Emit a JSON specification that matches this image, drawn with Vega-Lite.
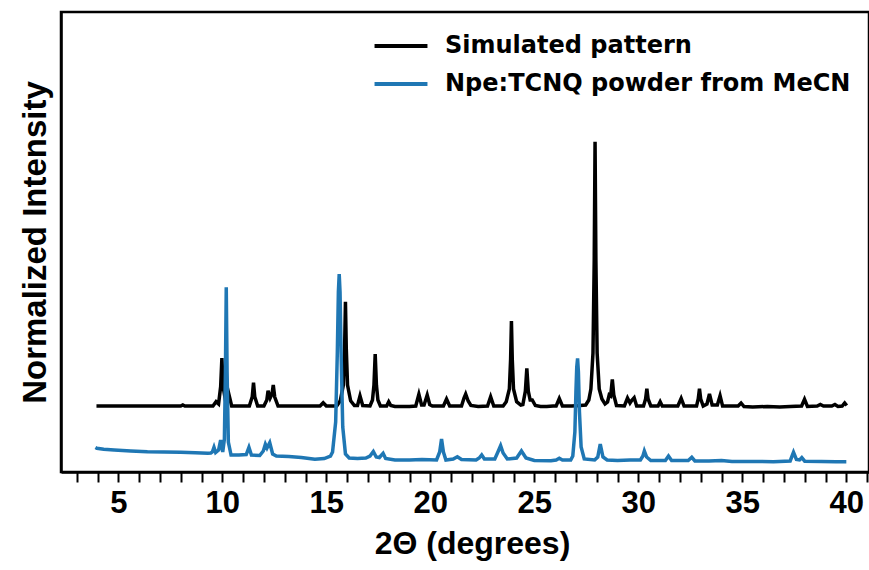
{
  "$schema": "https://vega.github.io/schema/vega-lite/v6.json",
  "width": 808,
  "height": 460,
  "autosize": {"type": "none"},
  "padding": {"left": 61, "top": 12, "right": 0, "bottom": 98},
  "background": "white",
  "config": {
    "view": {"stroke": "black", "strokeWidth": 2.5},
    "legend": {
      "orient": "none",
      "legendX": 320,
      "legendY": 14,
      "title": null,
      "symbolType": "M-1.47,0H1.47",
      "symbolSize": 1296,
      "symbolStrokeWidth": 4,
      "labelFont": "DejaVu Sans",
      "labelFontWeight": "bold",
      "labelFontSize": 24,
      "labelColor": "black",
      "labelLimit": 600,
      "labelOffset": 24,
      "rowPadding": 6,
      "padding": 0
    }
  },
  "datasets": {
    "sim": [
      {"x":3.95,"y":0.66},{"x":6.0,"y":0.66},{"x":8.0,"y":0.66},{"x":8.1,"y":0.67},{"x":8.2,"y":0.66},{"x":9.55,"y":0.66},{"x":9.7,"y":0.703},{"x":9.82,"y":0.68},{"x":9.92,"y":0.852},{"x":9.98,"y":1.14},{"x":10.04,"y":0.852},{"x":10.15,"y":0.72},{"x":10.3,"y":0.79},{"x":10.45,"y":0.66},{"x":11.3,"y":0.66},{"x":11.44,"y":0.753},{"x":11.5,"y":0.893},{"x":11.56,"y":0.753},{"x":11.7,"y":0.66},{"x":12.0,"y":0.66},{"x":12.14,"y":0.72},{"x":12.2,"y":0.813},{"x":12.3,"y":0.74},{"x":12.39,"y":0.78},{"x":12.45,"y":0.87},{"x":12.52,"y":0.75},{"x":12.68,"y":0.66},{"x":13.5,"y":0.66},{"x":14.7,"y":0.66},{"x":14.85,"y":0.693},{"x":15.0,"y":0.66},{"x":15.5,"y":0.66},{"x":15.67,"y":0.712},{"x":15.82,"y":0.869},{"x":15.88,"y":1.234},{"x":15.92,"y":1.703},{"x":15.96,"y":1.234},{"x":16.02,"y":0.869},{"x":16.17,"y":0.712},{"x":16.35,"y":0.665},{"x":16.5,"y":0.665},{"x":16.62,"y":0.76},{"x":16.75,"y":0.665},{"x":17.1,"y":0.66},{"x":17.22,"y":0.72},{"x":17.29,"y":0.868},{"x":17.35,"y":1.18},{"x":17.41,"y":0.868},{"x":17.48,"y":0.72},{"x":17.6,"y":0.66},{"x":17.9,"y":0.66},{"x":18.0,"y":0.703},{"x":18.1,"y":0.665},{"x":18.3,"y":0.655},{"x":19.0,"y":0.655},{"x":19.3,"y":0.66},{"x":19.45,"y":0.777},{"x":19.58,"y":0.67},{"x":19.7,"y":0.67},{"x":19.85,"y":0.77},{"x":19.97,"y":0.675},{"x":20.1,"y":0.66},{"x":20.63,"y":0.66},{"x":20.78,"y":0.73},{"x":20.93,"y":0.66},{"x":21.5,"y":0.66},{"x":21.62,"y":0.74},{"x":21.7,"y":0.78},{"x":21.82,"y":0.71},{"x":21.95,"y":0.665},{"x":22.3,"y":0.655},{"x":22.75,"y":0.66},{"x":22.9,"y":0.753},{"x":23.05,"y":0.66},{"x":23.5,"y":0.66},{"x":23.65,"y":0.703},{"x":23.8,"y":0.83},{"x":23.86,"y":1.128},{"x":23.9,"y":1.51},{"x":23.94,"y":1.128},{"x":24.0,"y":0.83},{"x":24.15,"y":0.703},{"x":24.35,"y":0.67},{"x":24.45,"y":0.675},{"x":24.57,"y":0.81},{"x":24.64,"y":1.037},{"x":24.71,"y":0.81},{"x":24.8,"y":0.72},{"x":24.9,"y":0.72},{"x":25.05,"y":0.665},{"x":25.3,"y":0.655},{"x":25.6,"y":0.655},{"x":25.9,"y":0.66},{"x":26.05,"y":0.66},{"x":26.2,"y":0.735},{"x":26.35,"y":0.66},{"x":26.8,"y":0.66},{"x":27.2,"y":0.665},{"x":27.47,"y":0.67},{"x":27.62,"y":0.72},{"x":27.72,"y":0.83},{"x":27.82,"y":1.189},{"x":27.88,"y":2.114},{"x":27.92,"y":3.303},{"x":27.96,"y":2.114},{"x":28.02,"y":1.189},{"x":28.12,"y":0.83},{"x":28.25,"y":0.73},{"x":28.4,"y":0.68},{"x":28.52,"y":0.7},{"x":28.6,"y":0.77},{"x":28.67,"y":0.76},{"x":28.75,"y":0.927},{"x":28.82,"y":0.77},{"x":28.95,"y":0.665},{"x":29.33,"y":0.66},{"x":29.48,"y":0.74},{"x":29.6,"y":0.69},{"x":29.68,"y":0.715},{"x":29.8,"y":0.743},{"x":29.92,"y":0.66},{"x":30.25,"y":0.66},{"x":30.35,"y":0.73},{"x":30.41,"y":0.833},{"x":30.47,"y":0.73},{"x":30.6,"y":0.66},{"x":30.95,"y":0.66},{"x":31.05,"y":0.703},{"x":31.15,"y":0.66},{"x":31.9,"y":0.66},{"x":32.06,"y":0.737},{"x":32.2,"y":0.66},{"x":32.8,"y":0.66},{"x":32.88,"y":0.73},{"x":32.94,"y":0.833},{"x":33.0,"y":0.73},{"x":33.12,"y":0.66},{"x":33.3,"y":0.68},{"x":33.42,"y":0.78},{"x":33.55,"y":0.67},{"x":33.8,"y":0.67},{"x":33.93,"y":0.763},{"x":34.05,"y":0.66},{"x":34.8,"y":0.66},{"x":34.94,"y":0.69},{"x":35.08,"y":0.655},{"x":35.5,"y":0.65},{"x":36.2,"y":0.655},{"x":36.8,"y":0.65},{"x":37.3,"y":0.655},{"x":37.85,"y":0.66},{"x":37.99,"y":0.727},{"x":38.13,"y":0.655},{"x":38.6,"y":0.66},{"x":38.75,"y":0.675},{"x":38.9,"y":0.66},{"x":39.3,"y":0.66},{"x":39.45,"y":0.675},{"x":39.6,"y":0.655},{"x":39.8,"y":0.66},{"x":39.92,"y":0.69},{"x":40.02,"y":0.665}
    ],
    "exp": [
      {"x":3.9,"y":0.245},{"x":3.97,"y":0.237},{"x":4.3,"y":0.228},{"x":4.8,"y":0.22},{"x":5.6,"y":0.21},{"x":6.4,"y":0.203},{"x":7.2,"y":0.2},{"x":8.0,"y":0.197},{"x":8.7,"y":0.192},{"x":9.3,"y":0.187},{"x":9.45,"y":0.19},{"x":9.52,"y":0.2},{"x":9.6,"y":0.247},{"x":9.68,"y":0.195},{"x":9.82,"y":0.22},{"x":9.92,"y":0.32},{"x":10.02,"y":0.2},{"x":10.1,"y":0.33},{"x":10.15,"y":1.0},{"x":10.19,"y":1.847},{"x":10.23,"y":1.0},{"x":10.29,"y":0.3},{"x":10.42,"y":0.17},{"x":10.8,"y":0.17},{"x":11.15,"y":0.175},{"x":11.28,"y":0.247},{"x":11.4,"y":0.17},{"x":11.8,"y":0.165},{"x":11.97,"y":0.21},{"x":12.07,"y":0.277},{"x":12.15,"y":0.24},{"x":12.28,"y":0.293},{"x":12.42,"y":0.18},{"x":12.6,"y":0.16},{"x":13.2,"y":0.155},{"x":13.8,"y":0.145},{"x":14.45,"y":0.127},{"x":14.9,"y":0.135},{"x":15.2,"y":0.16},{"x":15.3,"y":0.2},{"x":15.45,"y":0.5},{"x":15.53,"y":1.2},{"x":15.58,"y":1.8},{"x":15.62,"y":1.98},{"x":15.66,"y":1.8},{"x":15.71,"y":1.2},{"x":15.79,"y":0.45},{"x":15.92,"y":0.18},{"x":16.1,"y":0.14},{"x":16.5,"y":0.135},{"x":16.9,"y":0.14},{"x":17.1,"y":0.16},{"x":17.26,"y":0.205},{"x":17.4,"y":0.15},{"x":17.55,"y":0.145},{"x":17.73,"y":0.187},{"x":17.85,"y":0.135},{"x":18.3,"y":0.12},{"x":19.0,"y":0.12},{"x":19.6,"y":0.125},{"x":20.3,"y":0.12},{"x":20.45,"y":0.2},{"x":20.54,"y":0.33},{"x":20.63,"y":0.2},{"x":20.75,"y":0.12},{"x":21.1,"y":0.13},{"x":21.3,"y":0.153},{"x":21.5,"y":0.125},{"x":22.2,"y":0.12},{"x":22.35,"y":0.14},{"x":22.47,"y":0.17},{"x":22.6,"y":0.13},{"x":23.1,"y":0.13},{"x":23.25,"y":0.2},{"x":23.38,"y":0.263},{"x":23.5,"y":0.19},{"x":23.7,"y":0.13},{"x":24.15,"y":0.14},{"x":24.38,"y":0.21},{"x":24.6,"y":0.14},{"x":25.0,"y":0.115},{"x":25.8,"y":0.113},{"x":26.05,"y":0.12},{"x":26.2,"y":0.137},{"x":26.35,"y":0.12},{"x":26.75,"y":0.12},{"x":26.85,"y":0.16},{"x":26.95,"y":0.4},{"x":27.0,"y":0.8},{"x":27.04,"y":1.05},{"x":27.08,"y":1.137},{"x":27.12,"y":1.0},{"x":27.17,"y":0.6},{"x":27.25,"y":0.25},{"x":27.4,"y":0.13},{"x":27.9,"y":0.12},{"x":28.05,"y":0.15},{"x":28.17,"y":0.28},{"x":28.3,"y":0.15},{"x":28.5,"y":0.12},{"x":29.0,"y":0.115},{"x":29.6,"y":0.12},{"x":30.1,"y":0.12},{"x":30.22,"y":0.16},{"x":30.29,"y":0.21},{"x":30.4,"y":0.15},{"x":30.6,"y":0.115},{"x":31.3,"y":0.115},{"x":31.45,"y":0.16},{"x":31.6,"y":0.115},{"x":32.4,"y":0.115},{"x":32.57,"y":0.147},{"x":32.72,"y":0.11},{"x":33.4,"y":0.11},{"x":34.0,"y":0.115},{"x":34.5,"y":0.105},{"x":35.5,"y":0.105},{"x":36.5,"y":0.103},{"x":37.3,"y":0.11},{"x":37.46,"y":0.197},{"x":37.6,"y":0.125},{"x":37.75,"y":0.12},{"x":37.86,"y":0.143},{"x":38.0,"y":0.108},{"x":38.8,"y":0.105},{"x":39.5,"y":0.103},{"x":40.0,"y":0.103}
    ]
  },
  "encoding": {
    "x": {
      "field": "x",
      "type": "quantitative",
      "scale": {"domain": [2.245, 41.09], "nice": false, "zero": false},
      "axis": {
        "title": "2Θ (degrees)",
        "values": [3,4,5,6,7,8,9,10,11,12,13,14,15,16,17,18,19,20,21,22,23,24,25,26,27,28,29,30,31,32,33,34,35,36,37,38,39,40,41],
        "labelExpr": "datum.value % 5 === 0 ? datum.label : ''",
        "labelOverlap": false,
        "labelFlush": false,
        "grid": false,
        "tickSize": 10,
        "tickWidth": 2,
        "tickColor": "black",
        "domainColor": "black",
        "domainWidth": 2.5,
        "labelFont": "Liberation Sans",
        "labelFontWeight": "bold",
        "labelFontSize": 31,
        "labelColor": "black",
        "labelPadding": 6,
        "titleFont": "Liberation Sans",
        "titleFontWeight": "bold",
        "titleFontSize": 32,
        "titleColor": "black",
        "titlePadding": 10,
        "titleX": 411
      }
    },
    "y": {
      "field": "y",
      "type": "quantitative",
      "scale": {"domain": [0, 4.6], "nice": false},
      "axis": {
        "title": "Normalized Intensity",
        "ticks": false,
        "labels": false,
        "grid": false,
        "domainColor": "black",
        "domainWidth": 2.5,
        "titleFont": "Liberation Sans",
        "titleFontWeight": "bold",
        "titleFontSize": 33,
        "titleColor": "black",
        "titlePadding": 9
      }
    }
  },
  "layer": [
    {
      "data": {"name": "sim"},
      "mark": {"type": "line", "strokeWidth": 3.5, "clip": true},
      "encoding": {
        "color": {
          "datum": "Simulated pattern",
          "type": "nominal",
          "scale": {"domain": ["Simulated pattern", "Npe:TCNQ powder from MeCN"], "range": ["#000000", "#1f77b4"]}
        }
      }
    },
    {
      "data": {"name": "exp"},
      "mark": {"type": "line", "strokeWidth": 3.5, "clip": true},
      "encoding": {
        "color": {
          "datum": "Npe:TCNQ powder from MeCN",
          "type": "nominal"
        }
      }
    }
  ]
}
